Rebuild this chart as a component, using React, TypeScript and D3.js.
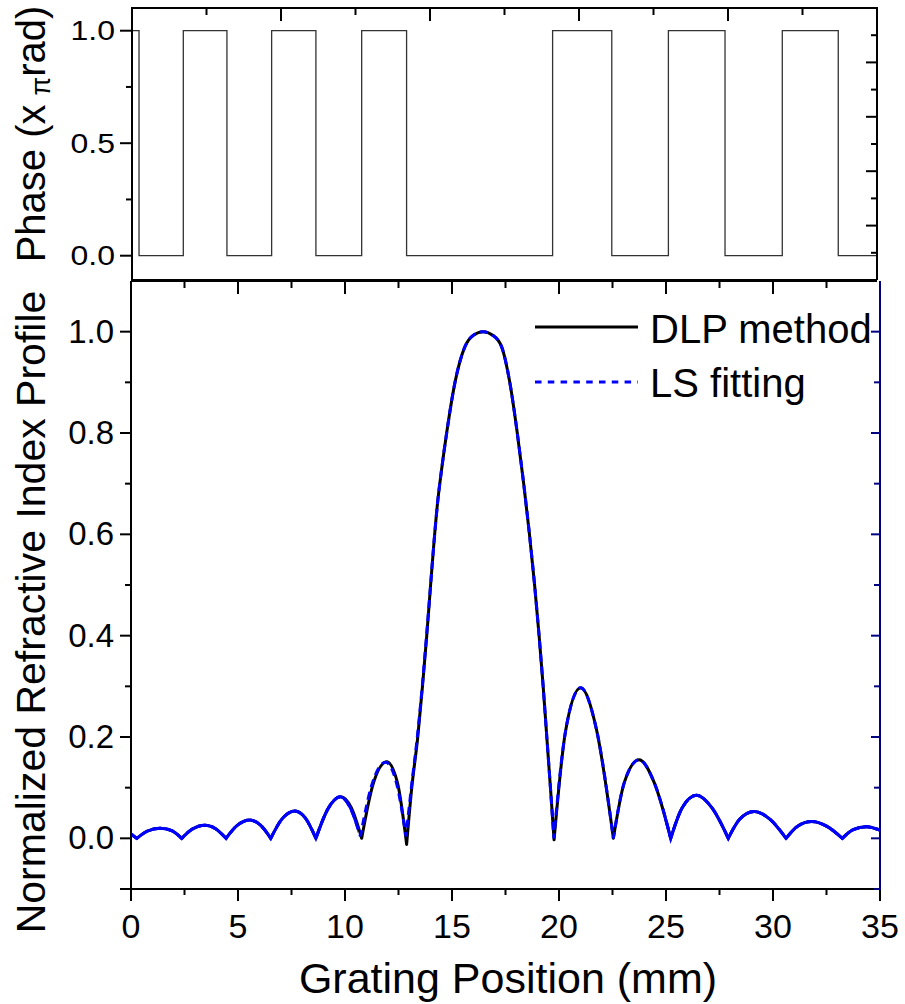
import React from 'react';
import * as d3 from 'd3';

// ---------- data ----------
// Phase profile: transition positions (mm) and level held from each position onward
const phaseX = [0, 0.33, 2.41, 4.46, 6.56, 8.64, 10.79, 12.9, 19.76, 22.54, 25.2, 27.86, 30.55, 33.18, 35];
const phaseLevel = [1, 0, 1, 0, 1, 0, 1, 0, 1, 0, 1, 0, 1, 0, 0];

// DLP method (black solid)
const dlpX = [0, 0.27, 0.75, 1.36, 1.9, 2.37, 2.85, 3.46, 3.95, 4.44, 4.95, 5.56, 6.05, 6.53, 7.05, 7.66, 8.15, 8.64,
  9.2, 9.8, 10.3, 10.78, 11.3, 11.95, 12.45, 12.88, 13.12, 13.4, 13.62, 13.82, 14.0, 14.15, 14.32, 14.52, 14.75, 15.14, 15.6,
  16.0, 16.46, 16.9, 17.32, 17.7, 18.05, 18.35, 18.62, 18.86, 19.07, 19.26, 19.43, 19.6, 19.77, 20.3, 21.01, 21.75,
  22.54, 23.05, 23.74, 24.45, 25.22, 25.75, 26.43, 27.15, 27.91, 28.45, 29.12, 29.85, 30.61, 31.15, 31.81, 32.5, 33.24,
  33.75, 34.37, 35];
const dlpY = [0.0085, 0, 0.014, 0.02, 0.015, 0, 0.018, 0.026, 0.019, 0, 0.025, 0.036, 0.026, 0, 0.038, 0.054, 0.04, 0,
  0.058, 0.082, 0.06, 0, 0.105, 0.151, 0.11, -0.012, 0.1, 0.2, 0.3, 0.4, 0.5, 0.58, 0.66, 0.73, 0.8, 0.9, 0.97,
  0.993, 1.0, 0.993, 0.97, 0.9, 0.8, 0.7, 0.6, 0.5, 0.4, 0.3, 0.2, 0.1, -0.003, 0.21, 0.297, 0.215,
  0, 0.11, 0.155, 0.11, 0, 0.06, 0.085, 0.06, 0, 0.038, 0.053, 0.038, 0, 0.024, 0.033, 0.024, 0,
  0.017, 0.023, 0.016];

// LS fitting (blue dotted)
const lsX = [0, 0.27, 0.75, 1.36, 1.9, 2.37, 2.85, 3.46, 3.95, 4.44, 4.95, 5.56, 6.05, 6.53, 7.05, 7.66, 8.15, 8.64,
  9.2, 9.78, 10.25, 10.72, 11.25, 11.9, 12.4, 12.85, 13.1, 13.38, 13.61, 13.81, 14.0, 14.15, 14.32, 14.52, 14.75, 15.14, 15.6,
  16.0, 16.46, 16.9, 17.32, 17.7, 18.05, 18.35, 18.62, 18.86, 19.07, 19.26, 19.43, 19.6, 19.76, 20.3, 21.01, 21.75,
  22.54, 23.05, 23.74, 24.45, 25.22, 25.75, 26.43, 27.15, 27.91, 28.45, 29.12, 29.85, 30.61, 31.15, 31.81, 32.5, 33.24,
  33.75, 34.37, 35];
const lsY = [0.0085, 0, 0.014, 0.02, 0.015, 0, 0.018, 0.026, 0.019, 0, 0.025, 0.036, 0.026, 0, 0.038, 0.054, 0.04, 0,
  0.058, 0.082, 0.06, 0.004, 0.105, 0.15, 0.11, 0.004, 0.1, 0.2, 0.3, 0.4, 0.5, 0.58, 0.66, 0.73, 0.8, 0.9, 0.97,
  0.993, 1.0, 0.993, 0.97, 0.9, 0.8, 0.7, 0.6, 0.5, 0.4, 0.3, 0.2, 0.1, 0, 0.21, 0.297, 0.215,
  0, 0.11, 0.155, 0.11, 0, 0.06, 0.085, 0.06, 0, 0.038, 0.053, 0.038, 0, 0.024, 0.033, 0.024, 0,
  0.017, 0.023, 0.016];

const xTickValues = [0, 5, 10, 15, 20, 25, 30, 35];
const xMinorValues = [2.5, 7.5, 12.5, 17.5, 22.5, 27.5, 32.5];
const yTickValues = [0, 0.2, 0.4, 0.6, 0.8, 1.0];
const yAllTicks = [-0.1, 0, 0.1, 0.2, 0.3, 0.4, 0.5, 0.6, 0.7, 0.8, 0.9, 1.0];
const phaseTickValues = [0, 0.5, 1.0];
const phaseMinorValues = [0.25, 0.75];
const legendLabels = ['DLP method', 'LS fitting'];

// ---------- layout ----------
const FONT = "'Liberation Sans', Arial, Helvetica, sans-serif";
const NAVY = '#000080';
const BLUE = '#0000ff';

const top = { left: 132, right: 877, top: 8, bottom: 280 };
const bot = { left: 131, right: 880, top: 281, bottom: 889 };

const xT = d3.scaleLinear().domain([0, 35]).range([top.left, top.right]);
const yT = d3.scaleLinear().domain([-0.1, 1.1]).range([278.2, 8.2]);
const xTopTicks = d3.scaleLinear().domain([0, 10]).range([top.left, top.right]);
const yRightTicks = d3.scaleLinear().domain([0, 10]).range([top.bottom, top.top]);

const xB = d3.scaleLinear().domain([0, 35]).range([bot.left, bot.right]);
const yB = d3.scaleLinear().domain([-0.1, 1.1]).range([bot.bottom, bot.top]);

function lobePath(xs: number[], ys: number[]) {
  const pts = xs.map((x, i) => [x, ys[i]] as [number, number]);
  const cuts = [0];
  for (let i = 1; i < pts.length - 1; i++) {
    if (pts[i][1] <= pts[i - 1][1] && pts[i][1] <= pts[i + 1][1]) cuts.push(i);
  }
  cuts.push(pts.length - 1);
  const line = d3.line<[number, number]>().x(d => xB(d[0])).y(d => yB(d[1])).curve(d3.curveMonotoneX);
  let d = '';
  for (let k = 0; k < cuts.length - 1; k++) {
    const seg = pts.slice(cuts[k], cuts[k + 1] + 1);
    const s = line(seg) || '';
    d += k === 0 ? s : s.replace(/^M/, 'L');
  }
  return d;
}

export default function App() {
  const phasePts = phaseX.map((x, i) => [x, phaseLevel[i]] as [number, number]);
  const phasePath = d3.line<[number, number]>().x(d => xT(d[0])).y(d => yT(d[1])).curve(d3.curveStepAfter)(phasePts) || '';
  const dlpPath = lobePath(dlpX, dlpY);
  const lsPath = lobePath(lsX, lsY);
  const fmt = d3.format('.1f');

  return (
    <svg width={905} height={1004} style={{ position: 'absolute', left: 0, top: 0, background: '#fff' }}
      fontFamily={FONT}>
      <defs>
        <clipPath id="flatL"><rect x={bot.left - 5} y={bot.top} width={xB(10.6) - bot.left + 5} height={bot.bottom - bot.top} /></clipPath>
        <clipPath id="flatR"><rect x={xB(24.9)} y={bot.top} width={bot.right - xB(24.9) + 5} height={bot.bottom - bot.top} /></clipPath>
      </defs>

      {/* ===== top panel ===== */}
      <path d={phasePath} fill="none" stroke="#333" strokeWidth={1.3} />
      <g stroke="#000" strokeWidth={2}>
        <line x1={top.left} x2={top.left} y1={top.top - 1} y2={top.bottom} />
        <line x1={top.left} x2={top.right} y1={top.top} y2={top.top} />
        <line x1={top.right} x2={top.right} y1={top.top - 1} y2={top.bottom} />
        <line x1={top.left} x2={top.right} y1={top.bottom} y2={top.bottom} />
        {phaseTickValues.map(v => <line key={'pt' + v} x1={top.left - 12} x2={top.left} y1={yT(v)} y2={yT(v)} />)}
        {phaseMinorValues.map(v => <line key={'pm' + v} x1={top.left - 6} x2={top.left} y1={yT(v)} y2={yT(v)} />)}
        {d3.range(1, 10).map(i => <line key={'tt' + i} x1={xTopTicks(i)} x2={xTopTicks(i)} y1={top.top} y2={top.top + (i % 2 === 0 ? 13 : 7)} />)}
        {d3.range(0, 10).map(i => <line key={'tr' + i} x1={top.right - (i % 2 === 0 ? 11 : 6)} x2={top.right} y1={yRightTicks(i)} y2={yRightTicks(i)} />)}
      </g>
      {phaseTickValues.map(v => (
        <text key={'pl' + v} transform={`translate(115,${yT(v) + 9.5}) scale(1,0.875)`} textAnchor="end" fontSize={32}>{fmt(v)}</text>
      ))}
      <text transform={`translate(45,134) rotate(-90)`} textAnchor="middle" fontSize={40}>
        Phase (x<tspan fontSize={27} dx={9} dy={5}>π</tspan><tspan dy={-5}>rad)</tspan>
      </text>

      {/* ===== bottom panel ===== */}
      <path d={dlpPath} fill="none" stroke="#000" strokeWidth={3} strokeLinejoin="round" />
      <path d={lsPath} fill="none" stroke={BLUE} strokeWidth={3} strokeDasharray="8,5" />
      <path d={lsPath} fill="none" stroke={BLUE} strokeWidth={3} clipPath="url(#flatL)" />
      <path d={lsPath} fill="none" stroke={BLUE} strokeWidth={3} clipPath="url(#flatR)" />

      <g stroke="#000" strokeWidth={2}>
        <line x1={bot.left} x2={bot.left} y1={bot.top} y2={bot.bottom} />
        <line x1={bot.left} x2={bot.right} y1={bot.bottom} y2={bot.bottom} />
        <line x1={bot.left} x2={top.right} y1={bot.top} y2={bot.top} />
        {xTickValues.map(v => <line key={'xb' + v} x1={xB(v)} x2={xB(v)} y1={bot.bottom} y2={bot.bottom + 12} />)}
        {xMinorValues.map(v => <line key={'xm' + v} x1={xB(v)} x2={xB(v)} y1={bot.bottom} y2={bot.bottom + 6} />)}
        {xTickValues.map(v => <line key={'xt' + v} x1={xB(v)} x2={xB(v)} y1={bot.top} y2={bot.top + 13} />)}
        {xMinorValues.map(v => <line key={'xtm' + v} x1={xB(v)} x2={xB(v)} y1={bot.top} y2={bot.top + 7} />)}
        {yAllTicks.map(v => {
          const major = yTickValues.some(t => Math.abs(t - v) < 1e-9) || v < 0;
          return <line key={'yl' + v} x1={bot.left - (major ? 11 : 6)} x2={bot.left} y1={yB(v)} y2={yB(v)} />;
        })}
      </g>
      <g stroke={NAVY} strokeWidth={2}>
        <line x1={bot.right} x2={bot.right} y1={bot.top} y2={bot.bottom + 1} />
        {yAllTicks.map(v => {
          const major = yTickValues.some(t => Math.abs(t - v) < 1e-9);
          return <line key={'yr' + v} x1={bot.right - (major ? 9 : 6)} x2={bot.right} y1={yB(v)} y2={yB(v)} />;
        })}
      </g>

      {yTickValues.map(v => (
        <text key={'yt' + v} x={114} y={yB(v) + 11} textAnchor="end" fontSize={33}>{fmt(v)}</text>
      ))}
      {xTickValues.map(v => (
        <text key={'xl' + v} x={xB(v)} y={938} textAnchor="middle" fontSize={34}>{v}</text>
      ))}

      <text x={508} y={993} textAnchor="middle" fontSize={43}>Grating Position (mm)</text>
      <text transform={`translate(45,612) rotate(-90)`} textAnchor="middle" fontSize={41}>Normalized Refractive Index Profile</text>

      {/* legend */}
      <line x1={535} x2={638} y1={327} y2={327} stroke="#000" strokeWidth={3} />
      <text x={650} y={343} fontSize={40}>{legendLabels[0]}</text>
      <line x1={535} x2={638} y1={382} y2={382} stroke={BLUE} strokeWidth={3} strokeDasharray="6.5,6.3" />
      <text x={650} y={397} fontSize={40}>{legendLabels[1]}</text>
    </svg>
  );
}
